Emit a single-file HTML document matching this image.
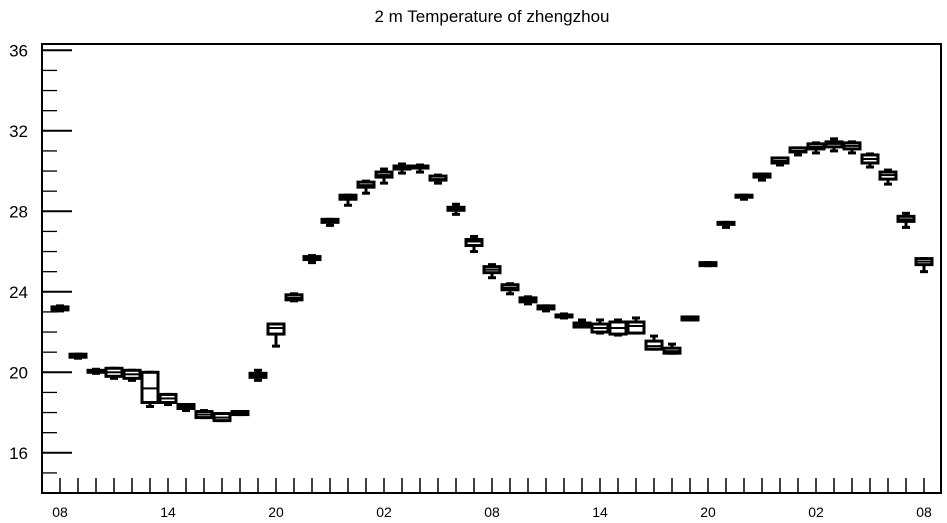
<!DOCTYPE html>
<html><head><meta charset="utf-8"><style>
body{margin:0;background:#fff;}
svg{display:block;font-family:"Liberation Sans",sans-serif;}
</style></head><body>
<svg id="chart" width="947" height="523" viewBox="0 0 947 523" xmlns="http://www.w3.org/2000/svg">
<text x="492" y="22" font-size="17" text-anchor="middle">2 m Temperature of zhengzhou</text>
<g id="axes"></g>
<g id="marks"></g>
</svg>
<script>
const medians=[23.2,20.8,20.05,20.0,19.9,19.2,18.7,18.3,17.9,17.75,18.0,19.85,22.2,23.7,25.7,27.5,28.7,29.3,29.8,30.2,30.2,29.6,28.1,26.5,25.1,24.2,23.6,23.2,22.8,22.35,22.2,22.2,22.3,21.3,21.05,22.7,25.4,27.4,28.75,29.75,30.5,31.0,31.2,31.35,31.25,30.6,29.8,27.6,25.5];
const q1s=[23.1,20.75,20.0,19.8,19.7,18.5,18.5,18.2,17.75,17.6,17.9,19.75,21.9,23.6,25.6,27.45,28.6,29.2,29.7,30.1,30.15,29.55,28.05,26.3,24.95,24.1,23.5,23.15,22.75,22.25,22.0,21.9,21.95,21.15,20.95,22.6,25.3,27.35,28.7,29.7,30.4,30.95,31.1,31.2,31.1,30.4,29.6,27.5,25.35];
const q3s=[23.25,20.9,20.1,20.2,20.1,20.0,18.9,18.4,18.05,17.95,18.05,19.95,22.4,23.85,25.75,27.6,28.8,29.45,29.95,30.25,30.25,29.75,28.2,26.6,25.25,24.35,23.7,23.3,22.85,22.45,22.4,22.5,22.5,21.55,21.2,22.75,25.45,27.45,28.8,29.85,30.65,31.15,31.35,31.45,31.4,30.8,29.95,27.75,25.65];
const mins=[23.05,20.7,19.95,19.7,19.6,18.3,18.4,18.1,17.75,17.6,17.9,19.6,21.3,23.55,25.45,27.3,28.3,28.9,29.4,29.9,29.95,29.4,27.85,26.0,24.7,23.9,23.4,23.05,22.7,22.25,21.95,21.85,21.95,21.15,20.95,22.6,25.3,27.2,28.6,29.55,30.3,30.8,30.9,31.0,30.9,30.2,29.35,27.2,25.0];
const maxs=[23.3,20.9,20.15,20.2,20.1,20.0,18.9,18.4,18.1,17.95,18.05,20.1,22.4,23.9,25.8,27.6,28.8,29.5,30.1,30.35,30.3,29.8,28.35,26.75,25.35,24.4,23.75,23.3,22.9,22.6,22.6,22.6,22.7,21.8,21.4,22.75,25.45,27.45,28.8,29.85,30.65,31.15,31.4,31.6,31.45,30.85,30.05,27.9,25.65];
const yTicks=[16,20,24,28,32,36];
const xLabels=["08","14","20","02","08","14","20","02","08"];

const NS="http://www.w3.org/2000/svg";
const L=42,R=941,T=44,B=493;
const yScale=v=>372.3-(v-20)*20.125;
const xScale=i=>60+i*18;
function mk(tag,attrs,parent){const e=document.createElementNS(NS,tag);for(const k in attrs)e.setAttribute(k,attrs[k]);parent.appendChild(e);return e;}
const axes=document.getElementById('axes'),marks=document.getElementById('marks');

const frame=mk('rect',{x:L,y:T,width:R-L,height:B-T,fill:'none',stroke:'#000','stroke-width':2},axes);



for(let v=15;v<=36;v++){
  const major=yTicks.includes(v);
  const t=mk('line',{x1:L,x2:major?72:57,y1:yScale(v),y2:yScale(v),stroke:'#000','stroke-width':major?2:1.3},axes);
  
  
}
yTicks.forEach(v=>{
  const t=mk('text',{x:28,y:yScale(v)+6,'font-size':17,'text-anchor':'end'},axes);
  t.textContent=v;
  
  
});
for(let i=0;i<medians.length;i++){
  const t=mk('line',{x1:xScale(i),x2:xScale(i),y1:B,y2:B-15,stroke:'#000','stroke-width':1.5},axes);
  
  
}
xLabels.forEach((s,j)=>{
  const t=mk('text',{x:xScale(j*6),y:517,'font-size':14,'text-anchor':'middle'},axes);
  t.textContent=s;
  
  
});

const W=16,C=8;
medians.forEach((m,i)=>{
  const x=xScale(i);
  const g=mk('g',{stroke:'#000','stroke-width':3,fill:'#fff'},marks);
  
  
  mk('line',{x1:x,x2:x,y1:yScale(maxs[i]),y2:yScale(q3s[i])},g);
  mk('line',{x1:x,x2:x,y1:yScale(q1s[i]),y2:yScale(mins[i])},g);
  mk('line',{x1:x-C/2,x2:x+C/2,y1:yScale(maxs[i]),y2:yScale(maxs[i])},g);
  mk('line',{x1:x-C/2,x2:x+C/2,y1:yScale(mins[i]),y2:yScale(mins[i])},g);
  const top=yScale(q3s[i]),bot=yScale(q1s[i]);
  mk('rect',{x:x-W/2,y:top,width:W,height:Math.max(bot-top,1)},g);
  mk('line',{x1:x-W/2,x2:x+W/2,y1:yScale(m),y2:yScale(m),'stroke-width':2},g);
});
</script>
</body></html>
